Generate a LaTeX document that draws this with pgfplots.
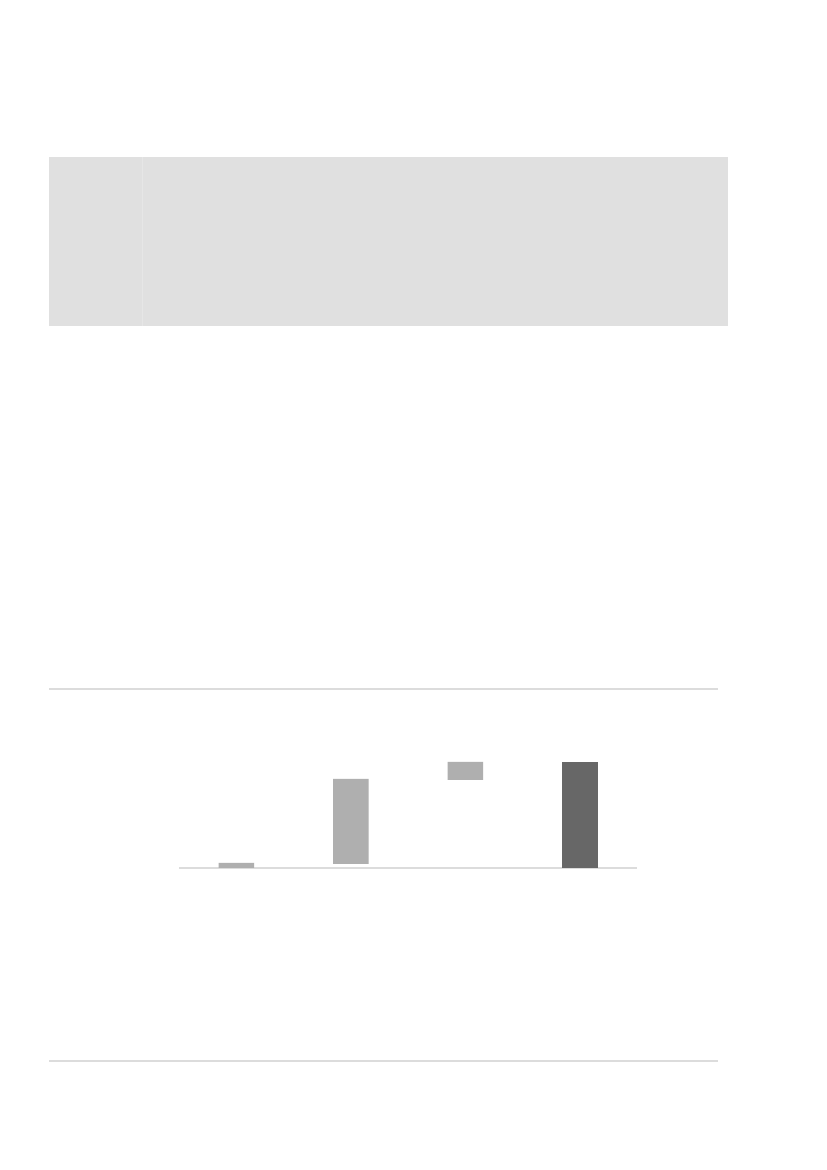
\documentclass[border=0pt]{standalone}
\usepackage{pgfplots}
\pgfplotsset{compat=1.18}
\definecolor{panelgrey}{HTML}{E0E0E0}
\definecolor{panelline}{HTML}{E6E6E6}
\definecolor{rulegrey}{HTML}{DCDCDC}
\definecolor{steplight}{HTML}{AFAFAF}
\definecolor{totaldark}{HTML}{676767}
\begin{document}
\begin{tikzpicture}[x=0.75pt,y=0.75pt]
% page frame and decorations (pixel units of the reference, y flipped)
\fill[white] (0,0) rectangle (827,1170);
\fill[panelgrey] (49,844) rectangle (728,1013);
\draw[panelline, line width=0.6pt] (142,844) -- (142,1013);
\draw[rulegrey, line width=1.5pt] (49,481) -- (718,481);
\draw[rulegrey, line width=1.5pt] (49,109) -- (718,109);

\begin{axis}[
    at={(134.25pt,226.5pt)},
    anchor=south west,
    scale only axis,
    width=343.5pt,
    height=96pt,
    xmin=-0.5, xmax=3.5,
    ymin=0, ymax=128,
    ybar stacked,
    bar width=0.31,
    axis y line=none,
    axis x line*=bottom,
    x axis line style={draw=rulegrey, line width=0.9pt, -},
    xtick=\empty,
    ytick=\empty,
    clip=false,
]
% invisible base of the floating steps
\addplot[draw=none, fill=none] coordinates {(0,0) (1,4) (2,88) (3,0)};
% steps
\addplot[draw=none, fill=steplight] coordinates {(0,5) (1,85) (2,18) (3,0)};
% total
\addplot[draw=none, fill=totaldark] coordinates {(0,0) (1,0) (2,0) (3,106)};
\end{axis}
\end{tikzpicture}
\end{document}
